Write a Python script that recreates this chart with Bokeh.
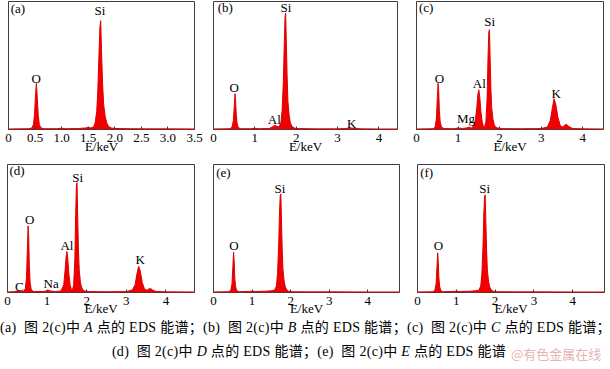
from bokeh.plotting import figure
from bokeh.layouts import row, column
from bokeh.models import Range1d, FixedTicker, Div
from bokeh.core.properties import value
from bokeh.embed import file_html
from bokeh.resources import INLINE

# ---------------- data ----------------
a_energy = [0.00, 0.20, 0.38, 0.44, 0.47, 0.49, 0.51, 0.525, 0.54, 0.56,
            0.58, 0.61, 0.68, 0.90, 1.00, 1.08, 1.30, 1.45, 1.50, 1.55,
            1.60, 1.63, 1.66, 1.68, 1.70, 1.72, 1.735, 1.75, 1.77, 1.79,
            1.82, 1.85, 1.88, 1.93, 2.00, 2.30, 2.60, 3.00, 3.50]
a_counts = [0.004, 0.005, 0.006, 0.012, 0.04, 0.12, 0.28, 0.36, 0.26, 0.11,
            0.04, 0.012, 0.006, 0.006, 0.010, 0.006, 0.007, 0.012, 0.016, 0.012,
            0.020, 0.05, 0.14, 0.30, 0.55, 0.80, 0.85, 0.62, 0.36, 0.20,
            0.10, 0.05, 0.025, 0.012, 0.008, 0.006, 0.005, 0.005, 0.004]

b_energy = [0.00, 0.25, 0.40, 0.45, 0.48, 0.50, 0.52, 0.535, 0.55, 0.57,
            0.60, 0.66, 0.90, 1.00, 1.10, 1.35, 1.42, 1.47, 1.50, 1.53,
            1.58, 1.63, 1.66, 1.69, 1.71, 1.73, 1.745, 1.76, 1.78, 1.80,
            1.83, 1.86, 1.90, 1.95, 2.05, 2.50, 3.00, 3.22, 3.31, 3.40,
            3.60, 4.00, 4.45]
b_counts = [0.004, 0.005, 0.006, 0.02, 0.07, 0.17, 0.28, 0.22, 0.12, 0.05,
            0.015, 0.006, 0.006, 0.009, 0.006, 0.008, 0.02, 0.03, 0.032, 0.025,
            0.02, 0.05, 0.15, 0.38, 0.65, 0.88, 0.91, 0.70, 0.42, 0.22,
            0.11, 0.05, 0.025, 0.012, 0.007, 0.005, 0.005, 0.008, 0.012, 0.008,
            0.005, 0.004, 0.004]

c_energy = [0.00, 0.25, 0.40, 0.45, 0.48, 0.50, 0.52, 0.535, 0.55, 0.57,
            0.60, 0.66, 0.90, 1.00, 1.10, 1.20, 1.26, 1.32, 1.38, 1.42,
            1.45, 1.48, 1.50, 1.52, 1.55, 1.58, 1.61, 1.64, 1.67, 1.70,
            1.72, 1.74, 1.755, 1.77, 1.79, 1.81, 1.84, 1.87, 1.90, 1.95,
            2.05, 2.50, 3.00, 3.15, 3.22, 3.27, 3.31, 3.35, 3.40, 3.46,
            3.52, 3.57, 3.61, 3.66, 3.75, 4.00, 4.50]
c_counts = [0.004, 0.005, 0.006, 0.02, 0.09, 0.24, 0.36, 0.30, 0.15, 0.06,
            0.02, 0.007, 0.006, 0.012, 0.008, 0.012, 0.018, 0.012, 0.03, 0.08,
            0.17, 0.28, 0.31, 0.26, 0.14, 0.06, 0.025, 0.02, 0.06, 0.25,
            0.55, 0.76, 0.78, 0.58, 0.32, 0.17, 0.08, 0.04, 0.02, 0.012,
            0.007, 0.006, 0.007, 0.02, 0.07, 0.17, 0.24, 0.20, 0.10, 0.03,
            0.02, 0.035, 0.04, 0.025, 0.008, 0.005, 0.004]

d_energy = [0.00, 0.15, 0.24, 0.28, 0.32, 0.40, 0.45, 0.48, 0.50, 0.52,
            0.535, 0.55, 0.57, 0.60, 0.66, 0.90, 1.00, 1.04, 1.08, 1.20,
            1.35, 1.42, 1.45, 1.48, 1.50, 1.52, 1.55, 1.58, 1.61, 1.64,
            1.67, 1.70, 1.72, 1.74, 1.755, 1.77, 1.79, 1.81, 1.84, 1.87,
            1.90, 1.95, 2.05, 2.50, 3.00, 3.15, 3.22, 3.27, 3.31, 3.35,
            3.40, 3.46, 3.52, 3.57, 3.61, 3.66, 3.75, 4.00, 4.72]
d_counts = [0.004, 0.006, 0.012, 0.016, 0.01, 0.008, 0.03, 0.12, 0.32, 0.52,
            0.44, 0.22, 0.08, 0.02, 0.008, 0.008, 0.014, 0.018, 0.012, 0.008,
            0.012, 0.06, 0.16, 0.28, 0.32, 0.27, 0.14, 0.06, 0.025, 0.02,
            0.06, 0.26, 0.60, 0.84, 0.857, 0.62, 0.34, 0.18, 0.08, 0.04,
            0.02, 0.012, 0.007, 0.006, 0.007, 0.02, 0.06, 0.15, 0.205, 0.17,
            0.08, 0.025, 0.018, 0.028, 0.032, 0.02, 0.008, 0.005, 0.004]

e_energy = [0.00, 0.25, 0.40, 0.45, 0.48, 0.50, 0.52, 0.535, 0.55, 0.57,
            0.60, 0.66, 0.90, 1.00, 1.10, 1.35, 1.50, 1.58, 1.63, 1.66,
            1.69, 1.71, 1.73, 1.745, 1.76, 1.78, 1.80, 1.83, 1.86, 1.90,
            1.95, 2.05, 2.50, 3.00, 4.00, 4.82]
e_counts = [0.004, 0.005, 0.006, 0.02, 0.07, 0.19, 0.315, 0.25, 0.12, 0.05,
            0.015, 0.006, 0.008, 0.010, 0.008, 0.010, 0.014, 0.018, 0.05, 0.15,
            0.38, 0.62, 0.76, 0.77, 0.58, 0.34, 0.18, 0.09, 0.045, 0.02,
            0.01, 0.006, 0.005, 0.005, 0.004, 0.004]

f_energy = [0.00, 0.25, 0.40, 0.45, 0.48, 0.50, 0.52, 0.535, 0.55, 0.57,
            0.60, 0.66, 0.90, 1.00, 1.10, 1.35, 1.50, 1.58, 1.63, 1.66,
            1.69, 1.71, 1.73, 1.745, 1.76, 1.78, 1.80, 1.83, 1.86, 1.90,
            1.95, 2.05, 2.50, 3.00, 4.00, 4.82]
f_counts = [0.004, 0.005, 0.006, 0.02, 0.07, 0.19, 0.31, 0.24, 0.12, 0.05,
            0.015, 0.006, 0.008, 0.010, 0.008, 0.010, 0.014, 0.018, 0.05, 0.15,
            0.38, 0.62, 0.75, 0.763, 0.58, 0.34, 0.18, 0.09, 0.045, 0.02,
            0.01, 0.006, 0.005, 0.005, 0.004, 0.004]

# peak annotations: element names and where they sit (keV, relative counts)
a_names, a_name_x, a_name_y = ["O", "Si"], [0.52, 1.72], [0.40, 0.93]
b_names, b_name_x, b_name_y = ["O", "Al", "Si", "K"], [0.50, 1.47, 1.75, 3.34], [0.33, 0.08, 0.95, 0.05]
c_names, c_name_x, c_name_y = ["O", "Mg", "Al", "Si", "K"], [0.55, 1.19, 1.51, 1.76, 3.36], [0.40, 0.085, 0.36, 0.84, 0.28]
d_names, d_name_x, d_name_y = ["C", "O", "Na", "Al", "Si", "K"], [0.30, 0.56, 1.10, 1.50, 1.77, 3.35], [0.05, 0.57, 0.07, 0.37, 0.90, 0.26]
e_names, e_name_x, e_name_y = ["O", "Si"], [0.53, 1.72], [0.37, 0.81]
f_names, f_name_x, f_name_y = ["O", "Si"], [0.54, 1.73], [0.37, 0.81]

# axis ends and ticks
a_xmax, b_xmax, c_xmax, d_xmax, e_xmax, f_xmax = 3.5, 4.45, 4.5, 4.72, 4.82, 4.82
a_ticks = [0, 0.5, 1.0, 1.5, 2.0, 2.5, 3.0, 3.5]
a_tick_labels = ["0", "0.5", "1.0", "1.5", "2.0", "2.5", "3.0", "3.5"]
int_ticks = [0, 1, 2, 3, 4]
int_tick_labels = ["0", "1", "2", "3", "4"]

tags = ["(a)", "(b)", "(c)", "(d)", "(e)", "(f)"]
axis_title = "E/keV"

caption_line1 = ["(a)", "图 2(c)中", "A", "点的 EDS 能谱；", "(b)", "图 2(c)中", "B", "点的 EDS 能谱；",
                 "(c)", "图 2(c)中", "C", "点的 EDS 能谱；"]
caption_line2 = ["(d)", "图 2(c)中", "D", "点的 EDS 能谱；", "(e)", "图 2(c)中", "E", "点的 EDS 能谱"]
watermark = "@有色金属在线"

# ---------------- styling ----------------
RED = "#f00000"
FRAME = "#3c3c3c"
SERIF = "Liberation Serif"


def panel(energy, counts, xmax, ticks, tick_labels, names, nx, ny, tag, tag_x, tag_y,
          width, height, bl, br, bt, bb, label_standoff, title_standoff):
    assert len(energy) == len(counts)
    p = figure(width=width, height=height, x_range=Range1d(0, xmax), y_range=Range1d(0, 1),
               output_backend="svg", toolbar_location=None, y_axis_location=None,
               min_border_left=bl, min_border_right=br, min_border_top=bt, min_border_bottom=bb)
    p.xgrid.visible = False
    p.ygrid.visible = False
    p.outline_line_color = FRAME
    p.outline_line_width = 1
    p.background_fill_color = "white"
    p.border_fill_color = "white"

    p.varea(x=energy, y1=[0] * len(energy), y2=counts, fill_color=RED)
    p.line(energy, counts, line_color="#e00000", line_width=1)

    ax = p.xaxis[0]
    ax.ticker = FixedTicker(ticks=ticks, minor_ticks=[])
    ax.major_label_overrides = {float(t): lab for t, lab in zip(ticks, tick_labels)}
    ax.axis_line_color = None
    ax.major_tick_in = 3
    ax.major_tick_out = 0
    ax.major_tick_line_color = FRAME
    ax.minor_tick_line_color = None
    ax.major_label_standoff = label_standoff
    ax.major_label_text_font = SERIF
    ax.major_label_text_font_size = "13px"
    ax.major_label_text_color = "black"
    ax.axis_label = axis_title
    ax.axis_label_standoff = title_standoff
    ax.axis_label_text_font = SERIF
    ax.axis_label_text_font_size = "13px"
    ax.axis_label_text_font_style = "normal"
    ax.axis_label_text_color = "black"

    p.text(x=nx, y=ny, text=names, text_font=value(SERIF), text_font_size="13px",
           text_align="center", text_baseline="middle", text_color="black")
    p.text(x=[tag_x], y=[tag_y], text=[tag], text_font=value(SERIF), text_font_size="13px",
           text_align="left", text_baseline="middle", text_color="black")
    return p


# row 1: frame 1..129 ; row 2: frame 164..292
pa = panel(a_energy, a_counts, a_xmax, a_ticks, a_tick_labels, a_names, a_name_x, a_name_y,
           tags[0], 0.04, 0.945, 205, 159, 8, 11, 1, 30, 4, -6)
pb = panel(b_energy, b_counts, b_xmax, int_ticks, int_tick_labels, b_names, b_name_x, b_name_y,
           tags[1], 0.10, 0.955, 200, 159, 8, 8, 1, 30, 4, -6)
pc = panel(c_energy, c_counts, c_xmax, int_ticks, int_tick_labels, c_names, c_name_x, c_name_y,
           tags[2], 0.06, 0.95, 205, 159, 11, 7, 1, 30, 4, -6)
pd = panel(d_energy, d_counts, d_xmax, int_ticks, int_tick_labels, d_names, d_name_x, d_name_y,
           tags[3], 0.05, 0.953, 203, 161, 7, 9, 5, 28, 4, -7)
pe = panel(e_energy, e_counts, e_xmax, int_ticks, int_tick_labels, e_names, e_name_x, e_name_y,
           tags[4], 0.07, 0.94, 202, 161, 10, 6, 5, 28, 4, -7)
pf = panel(f_energy, f_counts, f_xmax, int_ticks, int_tick_labels, f_names, f_name_x, f_name_y,
           tags[5], 0.07, 0.935, 205, 161, 12, 6, 5, 28, 4, -7)


def caption_html(parts):
    out = []
    for i in range(0, len(parts), 4):
        tag, fig_ref, letter, rest = parts[i:i + 4]
        out.append(f"{tag}&nbsp; {fig_ref} <i>{letter}</i> {rest}")
    return "".join(out)


html = (
    "<div style=\"position:relative;width:610px;height:49px;font-family:'Liberation Serif','Noto Sans CJK SC',serif;"
    "font-size:14px;letter-spacing:0.3px;color:#000;\">"
    "<div style=\"position:absolute;left:0;top:0;width:610px;line-height:16px;text-align:center;white-space:nowrap;\">"
    + caption_html(caption_line1) + "</div>"
    "<div style=\"position:absolute;left:4px;top:24px;width:610px;line-height:16px;text-align:center;white-space:nowrap;\">"
    + caption_html(caption_line2) + "</div>"
    "<div style=\"position:absolute;left:511px;top:26px;line-height:16px;white-space:nowrap;color:#e6b4b4;"
    "letter-spacing:0;font-family:'Noto Sans CJK SC',sans-serif;font-size:13px;\">" + watermark + "</div>"
    "</div>"
)
cap = Div(text=html, width=610, height=49, margin=0)

layout = column(row(pa, pb, pc, margin=0), row(pd, pe, pf, margin=0), cap, margin=0)

open("out.html", "w").write(file_html(layout, INLINE))
